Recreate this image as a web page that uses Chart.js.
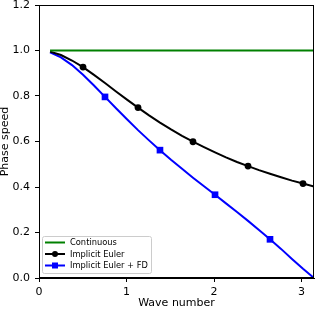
<!DOCTYPE html>
<html>
<head>
<meta charset="utf-8">
<script src="https://cdn.jsdelivr.net/npm/chart.js@4"></script>
<style>
  body { margin: 0; background: #fff; }
  canvas { display: block; }
</style>
</head>
<body>
<canvas id="phaseChart" width="316" height="309"></canvas>
<script>
// wave numbers (x) and phase speeds
let waveNumber = [0.126, 0.251, 0.377, 0.503, 0.628, 0.754, 0.880, 1.005, 1.131, 1.257,
    1.382, 1.508, 1.634, 1.759, 1.885, 2.011, 2.136, 2.262, 2.388, 2.513,
    2.639, 2.765, 2.890, 3.016, 3.142];
let continuous = [1.0, 1.0, 1.0, 1.0, 1.0, 1.0, 1.0, 1.0, 1.0, 1.0,
    1.0, 1.0, 1.0, 1.0, 1.0, 1.0, 1.0, 1.0, 1.0, 1.0,
    1.0, 1.0, 1.0, 1.0, 1.0];
let implicitEuler = [0.995, 0.980, 0.956, 0.927, 0.893, 0.857, 0.820, 0.784, 0.749, 0.715,
    0.683, 0.653, 0.625, 0.599, 0.575, 0.552, 0.530, 0.510, 0.492, 0.474,
    0.458, 0.443, 0.428, 0.415, 0.402];
let implicitEulerFD = [0.992, 0.970, 0.936, 0.893, 0.846, 0.796, 0.746, 0.698, 0.650, 0.605,
    0.562, 0.520, 0.480, 0.441, 0.403, 0.366, 0.328, 0.290, 0.251, 0.211,
    0.170, 0.128, 0.084, 0.041, 0.000];
let seriesNames = ["Continuous", "Implicit Euler", "Implicit Euler + FD"];
let xTicks = [0, 1, 2, 3];
let yTicks = [0.0, 0.2, 0.4, 0.6, 0.8, 1.0, 1.2];

// which samples carry a marker
let eulerMarks = [3, 8, 13, 18, 23];
let fdMarks = [5, 10, 15, 20];

const FONT = "'DejaVu Sans', sans-serif";

function toPoints(ys) {
    return ys.map((y, i) => ({ x: waveNumber[i], y: y }));
}

// matplotlib-style frame + legend in the lower left corner
const framePlugin = {
    id: "frame",
    afterDraw(chart) {
        const ctx = chart.ctx;
        const a = chart.chartArea;
        ctx.save();
        ctx.strokeStyle = "#000";
        ctx.lineWidth = 1;
        ctx.strokeRect(Math.round(a.left) + 0.5, Math.round(a.top) + 0.5,
            Math.round(a.right - a.left) - 1, Math.round(a.bottom - a.top) - 1);

        // legend box
        const bx = 42, by = 236, bw = 109, bh = 37;
        ctx.fillStyle = "rgba(255,255,255,0.8)";
        ctx.strokeStyle = "#cccccc";
        ctx.beginPath();
        ctx.roundRect(bx + 0.5, by + 0.5, bw, bh, 2);
        ctx.fill();
        ctx.stroke();

        ctx.font = "8.3px " + FONT;
        ctx.textBaseline = "middle";
        chart.data.datasets.forEach((ds, i) => {
            const y = 242.5 + i * 11.5;
            ctx.strokeStyle = ds.borderColor;
            ctx.lineWidth = 2;
            ctx.beginPath();
            ctx.moveTo(45, y);
            ctx.lineTo(65, y);
            ctx.stroke();
            ctx.fillStyle = ds.borderColor;
            if (ds.pointStyle === "circle") {
                ctx.beginPath();
                ctx.arc(55, y, 3, 0, Math.PI * 2);
                ctx.fill();
            } else if (ds.pointStyle === "rect") {
                ctx.fillRect(52, y - 3, 6, 6);
            }
            ctx.fillStyle = "#000";
            ctx.fillText(ds.label, 70, y + 0.5);
        });
        ctx.restore();
    }
};

new Chart(document.getElementById("phaseChart"), {
    type: "scatter",
    data: {
        datasets: [
            {
                label: seriesNames[0],
                data: toPoints(continuous),
                showLine: true,
                borderColor: "#008000",
                backgroundColor: "#008000",
                borderWidth: 2,
                pointRadius: 0,
                pointStyle: false
            },
            {
                label: seriesNames[1],
                data: toPoints(implicitEuler),
                showLine: true,
                borderColor: "#000000",
                backgroundColor: "#000000",
                borderWidth: 2,
                pointStyle: "circle",
                pointRadius: c => eulerMarks.includes(c.dataIndex) ? 3.4 : 0,
                pointBorderWidth: 0
            },
            {
                label: seriesNames[2],
                data: toPoints(implicitEulerFD),
                showLine: true,
                borderColor: "#0000ff",
                backgroundColor: "#0000ff",
                borderWidth: 2,
                pointStyle: "rect",
                pointRadius: c => fdMarks.includes(c.dataIndex) ? 4.7 : 0,
                pointBorderWidth: 0
            }
        ]
    },
    options: {
        responsive: false,
        animation: false,
        layout: { padding: { top: 5, right: 2, left: 0, bottom: 0 } },
        plugins: {
            legend: { display: false },
            tooltip: { enabled: false }
        },
        scales: {
            x: {
                type: "linear",
                min: 0,
                max: Math.PI,
                afterFit(s) { s.height = 31; s.paddingLeft = 0; s.paddingRight = 0; },
                afterBuildTicks(s) { s.ticks = xTicks.map(v => ({ value: v })); },
                ticks: {
                    color: "#000",
                    font: { family: FONT, size: 11 },
                    padding: 4,
                    maxRotation: 0,
                    callback: v => String(v)
                },
                grid: { drawOnChartArea: false, drawTicks: true, tickLength: 4, color: "#000" },
                border: { display: true, color: "#000" },
                title: {
                    display: true,
                    text: "Wave number",
                    color: "#000",
                    font: { family: FONT, size: 11, lineHeight: 1 },
                    padding: { top: 0, bottom: 0 }
                }
            },
            y: {
                min: 0,
                max: 1.2,
                afterFit(s) { s.width = 39; s.paddingTop = 0; s.paddingBottom = 0; },
                afterBuildTicks(s) { s.ticks = yTicks.map(v => ({ value: v })); },
                ticks: {
                    color: "#000",
                    font: { family: FONT, size: 11 },
                    padding: 5,
                    callback: v => v.toFixed(1)
                },
                grid: { drawOnChartArea: false, drawTicks: true, tickLength: 4, color: "#000" },
                border: { display: true, color: "#000" },
                title: {
                    display: true,
                    text: "Phase speed",
                    color: "#000",
                    font: { family: FONT, size: 11, lineHeight: 1 },
                    padding: { top: 0, bottom: 0 }
                }
            }
        }
    },
    plugins: [framePlugin]
});
</script>
</body>
</html>
